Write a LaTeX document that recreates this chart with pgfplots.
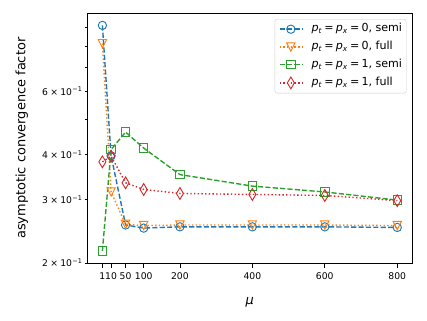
\documentclass[border=0pt]{standalone}
\usepackage{fontspec}
\setmainfont{DejaVu Sans}
\usepackage{pgfplots}
\pgfplotsset{compat=1.18}
\definecolor{C0}{HTML}{1F77B4}
\definecolor{C1}{HTML}{FF7F0E}
\definecolor{C2}{HTML}{2CA02C}
\definecolor{C3}{HTML}{D62728}
\pgfdeclareplotmark{mtridown}{%
  \pgfpathmoveto{\pgfqpoint{0pt}{-\pgfplotmarksize}}%
  \pgfpathlineto{\pgfqpoint{-\pgfplotmarksize}{\pgfplotmarksize}}%
  \pgfpathlineto{\pgfqpoint{\pgfplotmarksize}{\pgfplotmarksize}}%
  \pgfpathclose\pgfusepathqstroke}
\pgfdeclareplotmark{mthindiamond}{%
  \pgfpathmoveto{\pgfqpoint{0pt}{1.414\pgfplotmarksize}}%
  \pgfpathlineto{\pgfqpoint{0.849\pgfplotmarksize}{0pt}}%
  \pgfpathlineto{\pgfqpoint{0pt}{-1.414\pgfplotmarksize}}%
  \pgfpathlineto{\pgfqpoint{-0.849\pgfplotmarksize}{0pt}}%
  \pgfpathclose\pgfusepathqstroke}
\newcommand{\ptpx}[1]{\textit{p}\textsubscript{\textit{t}}\hspace{0.2em}=\hspace{0.2em}\textit{p}\textsubscript{\textit{x}}\hspace{0.2em}=\hspace{0.2em}#1}
\newcommand{\sci}[1]{#1\hspace{0.24em}×\hspace{0.24em}10\kern0.04em\textsuperscript{−1}}
\begin{document}
\begin{tikzpicture}
\useasboundingbox (-94.6bp,-61.8bp) rectangle (366.2bp,283.8bp);
\begin{axis}[
  at={(0,0)}, anchor=south west,
  scale only axis, width=350bp, height=269.2bp,
  xmin=-54.7, xmax=840.7,
  ymode=log, ymin=0.2, ymax=0.986,
  xtick={-14,10,50,100,200,400,600,800},
  xticklabels={1,10,50,100,200,400,600,800},
  ytick={0.2,0.3,0.4,0.6},
  yticklabels={\sci{2},\sci{3},\sci{4},\sci{6}},
  minor ytick={0.2,0.3,0.4,0.5,0.6,0.7,0.8,0.9},
  xtick pos=left, ytick pos=left,
  tick align=outside,
  major tick length=5bp, minor tick length=2.5bp,
  tick style={black, line width=0.8bp},
  minor tick style={black, line width=0.7bp},
  major y tick style={draw=none},
  axis line style={line width=0.8bp},
  xticklabel style={inner ysep=5bp, inner xsep=0pt},
  yticklabel style={inner xsep=0.5bp, inner ysep=0pt},
  xlabel={\textit{μ}},
  ylabel={asymptotic convergence factor},
  xlabel style={font=\fontsize{14}{16.8}\selectfont, at={(axis description cs:0.5,-0.157)}, anchor=center},
  ylabel style={font=\fontsize{14}{16.8}\selectfont, at={(axis description cs:-0.2027,0.5)}, anchor=center},
  legend cell align=left,
  legend style={at={(1,1)}, anchor=north east, xshift=-6bp, yshift=-6bp,
    draw=black!20, rounded corners=2.5bp, fill=white, fill opacity=0.8, text opacity=1,
    font=\fontsize{12}{14.4}\selectfont,
    inner xsep=4.5bp, inner ysep=4.7bp, row sep=7.2bp, column sep=9.6bp,
    nodes={inner sep=0pt, text height=9bp, text depth=3bp}},
  legend image code/.code={\draw[mark repeat=2,mark phase=2] plot coordinates {(0bp,0bp) (12bp,0bp) (24bp,0bp)};},
  every axis plot/.append style={line width=1.5bp, mark size=4.5bp},
]
\addplot[C0, dash pattern=on 5.55bp off 2.4bp, mark=o, mark options={solid, line width=1bp}]
  coordinates {(-14,0.914) (10,0.397) (50,0.255) (100,0.250) (200,0.252) (400,0.252) (600,0.252) (800,0.251)};
\addlegendentry{\ptpx{0}, semi}
\addplot[C1, dash pattern=on 1.5bp off 2.475bp, mark=mtridown, mark options={solid, line width=1bp}]
  coordinates {(-14,0.813) (10,0.315) (50,0.256) (100,0.254) (200,0.255) (400,0.255) (600,0.255) (800,0.254)};
\addlegendentry{\ptpx{0}, full}
\addplot[C2, dash pattern=on 5.55bp off 2.4bp, mark=square, mark options={solid, line width=1bp}]
  coordinates {(-14,0.216) (10,0.413) (50,0.462) (100,0.417) (200,0.352) (400,0.327) (600,0.315) (800,0.299)};
\addlegendentry{\ptpx{1}, semi}
\addplot[C3, dash pattern=on 1.5bp off 2.475bp, mark=mthindiamond, mark options={solid, line width=1bp}]
  coordinates {(-14,0.382) (10,0.396) (50,0.334) (100,0.320) (200,0.312) (400,0.310) (600,0.308) (800,0.298)};
\addlegendentry{\ptpx{1}, full}
\end{axis}
\end{tikzpicture}
\end{document}
